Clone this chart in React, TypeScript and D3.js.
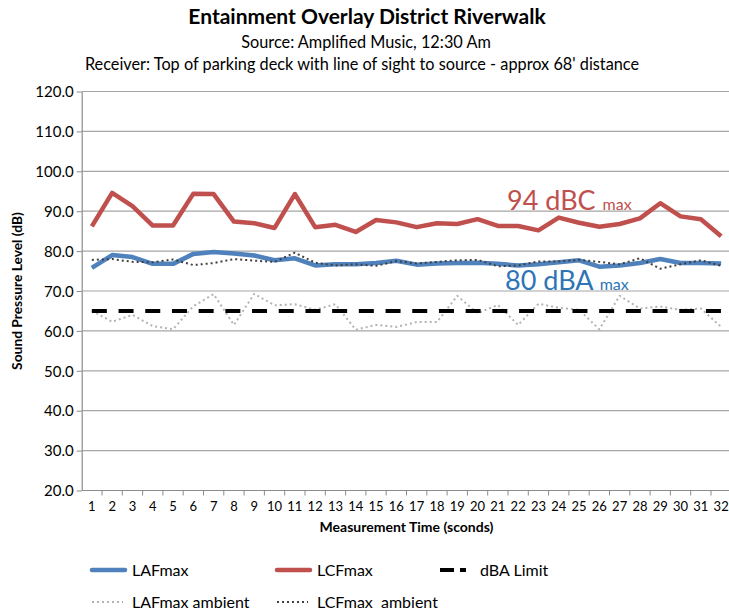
import { useEffect, useRef } from "react";
import * as d3 from "d3";

const seconds = d3.range(1, 33);

const lafMax = [75.8, 79.0, 78.5, 76.8, 76.8, 79.3, 79.8, 79.4, 78.9, 77.7, 78.2, 76.4, 76.7, 76.7, 77.0, 77.6,
  76.6, 76.9, 77.0, 77.1, 76.8, 76.4, 76.7, 77.2, 77.7, 76.1, 76.4, 77.0, 78.0, 77.0, 77.0, 76.9];
const lcfMax = [86.2, 94.6, 91.3, 86.4, 86.4, 94.4, 94.3, 87.4, 87.0, 85.8, 94.3, 86.0, 86.6, 84.8, 87.8, 87.2,
  86.0, 87.0, 86.8, 88.0, 86.3, 86.3, 85.2, 88.4, 87.1, 86.1, 86.8, 88.2, 92.0, 88.7, 88.0, 83.7];
const lafAmbient = [65.0, 62.3, 64.0, 61.2, 60.4, 66.2, 69.2, 61.5, 69.3, 66.4, 66.7, 65.3, 66.7, 60.3, 61.5, 61.0,
  62.2, 62.2, 68.8, 64.4, 66.5, 61.5, 66.8, 65.8, 65.3, 60.4, 68.8, 65.6, 66.1, 65.3, 65.6, 61.0];
const lcfAmbient = [77.8, 78.0, 77.3, 77.2, 77.9, 76.5, 77.0, 78.0, 77.6, 77.3, 79.6, 77.1, 76.4, 76.7, 76.3, 77.5,
  76.9, 77.3, 77.7, 77.8, 76.2, 76.4, 77.4, 77.4, 77.8, 77.3, 76.7, 78.2, 75.6, 76.7, 77.7, 76.3];
const dbaLimit = seconds.map(() => 65);

const yTicks = [20, 30, 40, 50, 60, 70, 80, 90, 100, 110, 120];

const FONT = "Lato, 'Open Sans', sans-serif";

export default function App() {
  const ref = useRef<SVGSVGElement>(null);

  useEffect(() => {
    if (!ref.current) return;
    const svg = d3.select(ref.current);
    svg.selectAll("*").remove();

    const left = 81.7, right = 731.3, top = 91.5, bottom = 490.5;

    const x = d3.scaleBand<number>().domain(seconds).range([left, right]);
    const cx = (s: number) => (x(s) ?? 0) + x.bandwidth() / 2;
    const y = d3.scaleLinear().domain([20, 120]).range([bottom, top]);

    // titles
    const titles = svg.append("g").attr("font-family", FONT).attr("text-anchor", "middle").attr("fill", "#000");
    titles.append("text").attr("x", 367).attr("y", 24).attr("font-size", 21).attr("font-weight", "bold")
      .text("Entainment Overlay District Riverwalk");
    titles.append("text").attr("x", 366).attr("y", 48).attr("font-size", 16.3)
      .text("Source: Amplified Music, 12:30 Am");
    titles.append("text").attr("x", 362).attr("y", 70).attr("font-size", 16.3)
      .text("Receiver: Top of parking deck with line of sight to source - approx 68' distance");

    // grid
    svg.append("g").selectAll("line").data(yTicks.slice(1)).enter().append("line")
      .attr("x1", left).attr("x2", right)
      .attr("y1", (d) => y(d)).attr("y2", (d) => y(d))
      .attr("stroke", "#a6a6a6").attr("stroke-width", 1.2);

    // y axis
    const yAxis = svg.append("g").attr("transform", `translate(${left},0)`)
      .call(d3.axisLeft(y).tickValues(yTicks).tickSize(5).tickSizeOuter(0).tickFormat((d) => (d as number).toFixed(1)));
    yAxis.select(".domain").attr("stroke", "#8c8c8c").attr("stroke-width", 1.2);
    yAxis.selectAll(".tick line").attr("stroke", "#8c8c8c");
    yAxis.selectAll("text").attr("font-family", FONT).attr("font-size", 15).attr("fill", "#000").attr("x", -8).attr("dy", "0.35em");

    // x axis
    const xAxisG = svg.append("g").attr("transform", `translate(0,${bottom})`);
    xAxisG.append("line").attr("x1", left).attr("x2", right).attr("stroke", "#8c8c8c").attr("stroke-width", 1.2);
    xAxisG.selectAll(".tk").data(seconds).enter().append("line")
      .attr("x1", (d) => (x(d) ?? 0) + x.bandwidth()).attr("x2", (d) => (x(d) ?? 0) + x.bandwidth())
      .attr("y1", 0).attr("y2", 5).attr("stroke", "#8c8c8c");
    xAxisG.selectAll("text").data(seconds).enter().append("text")
      .attr("x", (d) => cx(d)).attr("y", 20).attr("text-anchor", "middle")
      .attr("font-family", FONT).attr("font-size", 13).attr("fill", "#000").text((d) => d);

    // axis titles
    svg.append("text").attr("x", (left + right) / 2).attr("y", 532).attr("text-anchor", "middle")
      .attr("font-family", FONT).attr("font-size", 14).attr("font-weight", "bold").text("Measurement Time (sconds)");
    svg.append("text").attr("transform", `translate(22,${(top + bottom) / 2}) rotate(-90)`).attr("text-anchor", "middle")
      .attr("font-family", FONT).attr("font-size", 13.8).attr("font-weight", "bold").text("Sound Pressure Level (dB)");

    const line = (vals: number[]) =>
      d3.line<number>().x((_, i) => cx(seconds[i])).y((d) => y(d))(vals) ?? "";

    const plot = svg.append("g").attr("fill", "none").attr("stroke-linejoin", "round");
    plot.append("path").attr("d", line(lafAmbient)).attr("stroke", "#b3b3b3").attr("stroke-width", 2)
      .attr("stroke-dasharray", "2,3");
    plot.append("path").attr("d", line(dbaLimit)).attr("stroke", "#000").attr("stroke-width", 4)
      .attr("stroke-dasharray", "15,11.7");
    plot.append("path").attr("d", line(lcfMax)).attr("stroke", "#c0504d").attr("stroke-width", 4.5);
    plot.append("path").attr("d", line(lafMax)).attr("stroke", "#4f81bd").attr("stroke-width", 4.5);
    plot.append("path").attr("d", line(lcfAmbient)).attr("stroke", "#404040").attr("stroke-width", 2)
      .attr("stroke-dasharray", "2,3");

    // annotations
    const ann = svg.append("g").attr("font-family", FONT);
    const t1 = ann.append("text").attr("x", 507).attr("y", 210).attr("fill", "#c0504d");
    t1.append("tspan").attr("font-size", 27).text("94 dBC ");
    t1.append("tspan").attr("font-size", 16).text("max");
    const t2 = ann.append("text").attr("x", 505).attr("y", 290).attr("fill", "#2e75b6");
    t2.append("tspan").attr("font-size", 27).text("80 dBA ");
    t2.append("tspan").attr("font-size", 16).text("max");

    // legend
    const leg = svg.append("g").attr("font-family", FONT).attr("font-size", 16).attr("fill", "#000");
    const items = [
      { label: "LAFmax", x: 92, y: 570, color: "#4f81bd", w: 4.5, dash: "" },
      { label: "LCFmax", x: 277, y: 570, color: "#c0504d", w: 4.5, dash: "" },
      { label: "dBA Limit", x: 440, y: 570, color: "#000", w: 4, dash: "14,6,6,20" },
      { label: "LAFmax ambient", x: 92, y: 602, color: "#b3b3b3", w: 2, dash: "2,3" },
      { label: "LCFmax  ambient", x: 277, y: 602, color: "#404040", w: 2, dash: "2,3" },
    ];
    items.forEach((it) => {
      leg.append("line").attr("x1", it.x).attr("x2", it.x + (it.dash ? 31 : 33)).attr("y1", it.y).attr("y2", it.y)
        .attr("stroke", it.color).attr("stroke-width", it.w).attr("stroke-linecap", it.dash ? "butt" : "round")
        .attr("stroke-dasharray", it.dash || null);
      leg.append("text").attr("x", it.x + 40).attr("y", it.y).attr("dy", "0.35em")
        .style("white-space", "pre").text(it.label);
    });
  }, []);

  return (
    <svg ref={ref} width={729} height={612}
      style={{ position: "absolute", left: 0, top: 0, background: "#fff" }} />
  );
}
